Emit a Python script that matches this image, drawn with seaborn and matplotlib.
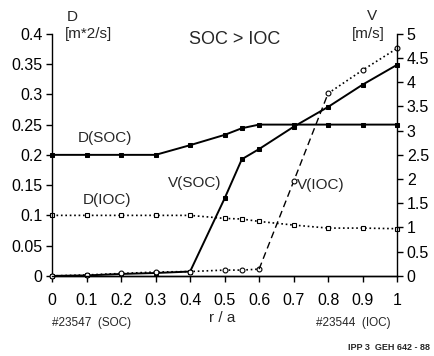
import numpy as np
import matplotlib
matplotlib.use('Agg')
import matplotlib.pyplot as plt
import seaborn as sns
from matplotlib.ticker import FuncFormatter

# radius r/a
r_d_soc = [0, 0.1, 0.2, 0.3, 0.4, 0.5, 0.55, 0.6, 0.7, 0.8, 0.9, 1.0]
d_soc = [0.2, 0.2, 0.2, 0.2, 0.216, 0.233, 0.244, 0.25, 0.25, 0.25, 0.25, 0.25]

r_d_ioc = [0, 0.1, 0.2, 0.3, 0.4, 0.5, 0.55, 0.6, 0.7, 0.8, 0.9, 1.0]
d_ioc = [0.1, 0.1, 0.1, 0.1, 0.1, 0.095, 0.094, 0.09, 0.084, 0.079, 0.079, 0.078]

r_v_soc = [0, 0.1, 0.2, 0.3, 0.4, 0.5, 0.55, 0.6, 0.7, 0.8, 0.9, 1.0]
v_soc = [0.0, 0.01, 0.04, 0.06, 0.09, 1.6, 2.41, 2.62, 3.08, 3.49, 3.95, 4.36]

r_v_ioc = [0, 0.1, 0.2, 0.3, 0.4, 0.5, 0.55, 0.6, 0.7, 0.8, 0.9, 1.0]
v_ioc = [0.0, 0.02, 0.05, 0.08, 0.09, 0.12, 0.12, 0.14, 1.95, 3.77, 4.25, 4.7]

x_ticks = [0, 0.1, 0.2, 0.3, 0.4, 0.5, 0.6, 0.7, 0.8, 0.9, 1.0]
d_ticks = [0, 0.05, 0.1, 0.15, 0.2, 0.25, 0.3, 0.35, 0.4]
v_ticks = [0, 0.5, 1, 1.5, 2, 2.5, 3, 3.5, 4, 4.5, 5]

sns.set_style('white')
plt.rcParams['font.family'] = ['Liberation Sans', 'DejaVu Sans']

fig = plt.figure(figsize=(4.34, 3.56), dpi=100)
ax = fig.add_axes([0.12, 0.225, 0.795, 0.68])
ax2 = ax.twinx()

k = 'black'
sns.lineplot(x=r_d_soc, y=d_soc, ax=ax, color=k, lw=1.4, marker='s', ms=3,
             mec=k, mfc=k, clip_on=False, sort=False)
sns.lineplot(x=r_d_ioc, y=d_ioc, ax=ax, color=k, lw=1.2, ls=':', marker='s', ms=3.5,
             mec=k, mfc='white', mew=0.8, clip_on=False, sort=False)

sns.lineplot(x=r_v_soc, y=v_soc, ax=ax2, color=k, lw=1.4, marker='s', ms=2.8,
             mec=k, mfc=k, clip_on=False, sort=False)
# V(IOC): dotted inside, dashed across the jump, dotted outside
sns.lineplot(x=r_v_ioc[:8], y=v_ioc[:8], ax=ax2, color=k, lw=1.2, ls=':', marker='o', ms=3.5,
             mec=k, mfc='white', mew=0.8, clip_on=False, sort=False)
sns.lineplot(x=r_v_ioc[7:10], y=v_ioc[7:10], ax=ax2, color=k, lw=1.0, ls=(0, (5, 3)),
             clip_on=False, sort=False)
sns.lineplot(x=r_v_ioc[9:], y=v_ioc[9:], ax=ax2, color=k, lw=1.2, ls=':', marker='o', ms=3.5,
             mec=k, mfc='white', mew=0.8, clip_on=False, sort=False)
ax2.plot(r_v_ioc[8], v_ioc[8], 'o', ms=3.5, mec=k, mfc='white', mew=0.8)

ax.set_xlim(0, 1)
ax.set_ylim(0, 0.4)
ax2.set_ylim(0, 5)
ax.set_xticks(x_ticks)
ax.set_yticks(d_ticks)
ax2.set_yticks(v_ticks)
fmt = FuncFormatter(lambda v, p: f'{v:g}')
ax.xaxis.set_major_formatter(fmt)
ax.yaxis.set_major_formatter(fmt)
ax2.yaxis.set_major_formatter(fmt)

for a in (ax, ax2):
    a.spines['top'].set_visible(False)
    for s in a.spines.values():
        s.set_color(k)
        s.set_linewidth(1.0)
    a.tick_params(colors=k, labelsize=11.5, length=4, width=1.0, direction='out')
    a.grid(False)
ax.spines['right'].set_visible(False)
ax2.spines['left'].set_visible(False)
ax.tick_params(axis='y', left=True, pad=3)
ax.tick_params(axis='x', bottom=True, pad=8)
ax2.tick_params(axis='y', right=True, pad=3)

# annotations
fig.text(72 / 434, 1 - 17 / 356, 'D', ha='center', va='center', fontsize=11)
fig.text(88 / 434, 1 - 34 / 356, '[m*2/s]', ha='center', va='center', fontsize=11)
fig.text(372 / 434, 1 - 16 / 356, 'V', ha='center', va='center', fontsize=11)
fig.text(368 / 434, 1 - 34 / 356, '[m/s]', ha='center', va='center', fontsize=11)
fig.text(235 / 434, 1 - 40 / 356, 'SOC > IOC', ha='center', va='center', fontsize=13)
fig.text(105 / 434, 1 - 138 / 356, 'D(SOC)', ha='center', va='center', fontsize=11)
fig.text(107 / 434, 1 - 200 / 356, 'D(IOC)', ha='center', va='center', fontsize=11)
fig.text(195 / 434, 1 - 183 / 356, 'V(SOC)', ha='center', va='center', fontsize=11)
fig.text(321 / 434, 1 - 185 / 356, 'V(IOC)', ha='center', va='center', fontsize=11)
fig.text(222 / 434, 1 - 318 / 356, 'r / a', ha='center', va='center', fontsize=11)
fig.text(92 / 434, 1 - 323 / 356, '#23547  (SOC)', ha='center', va='center', fontsize=8.5)
fig.text(353 / 434, 1 - 323 / 356, '#23544  (IOC)', ha='center', va='center', fontsize=8.5)
fig.text(430 / 434, 1 - 348 / 356, 'IPP 3  GEH 642 - 88', ha='right', va='center',
         fontsize=6.5, fontweight='bold')

fig.savefig('out.png', dpi=100)
plt.close(fig)
